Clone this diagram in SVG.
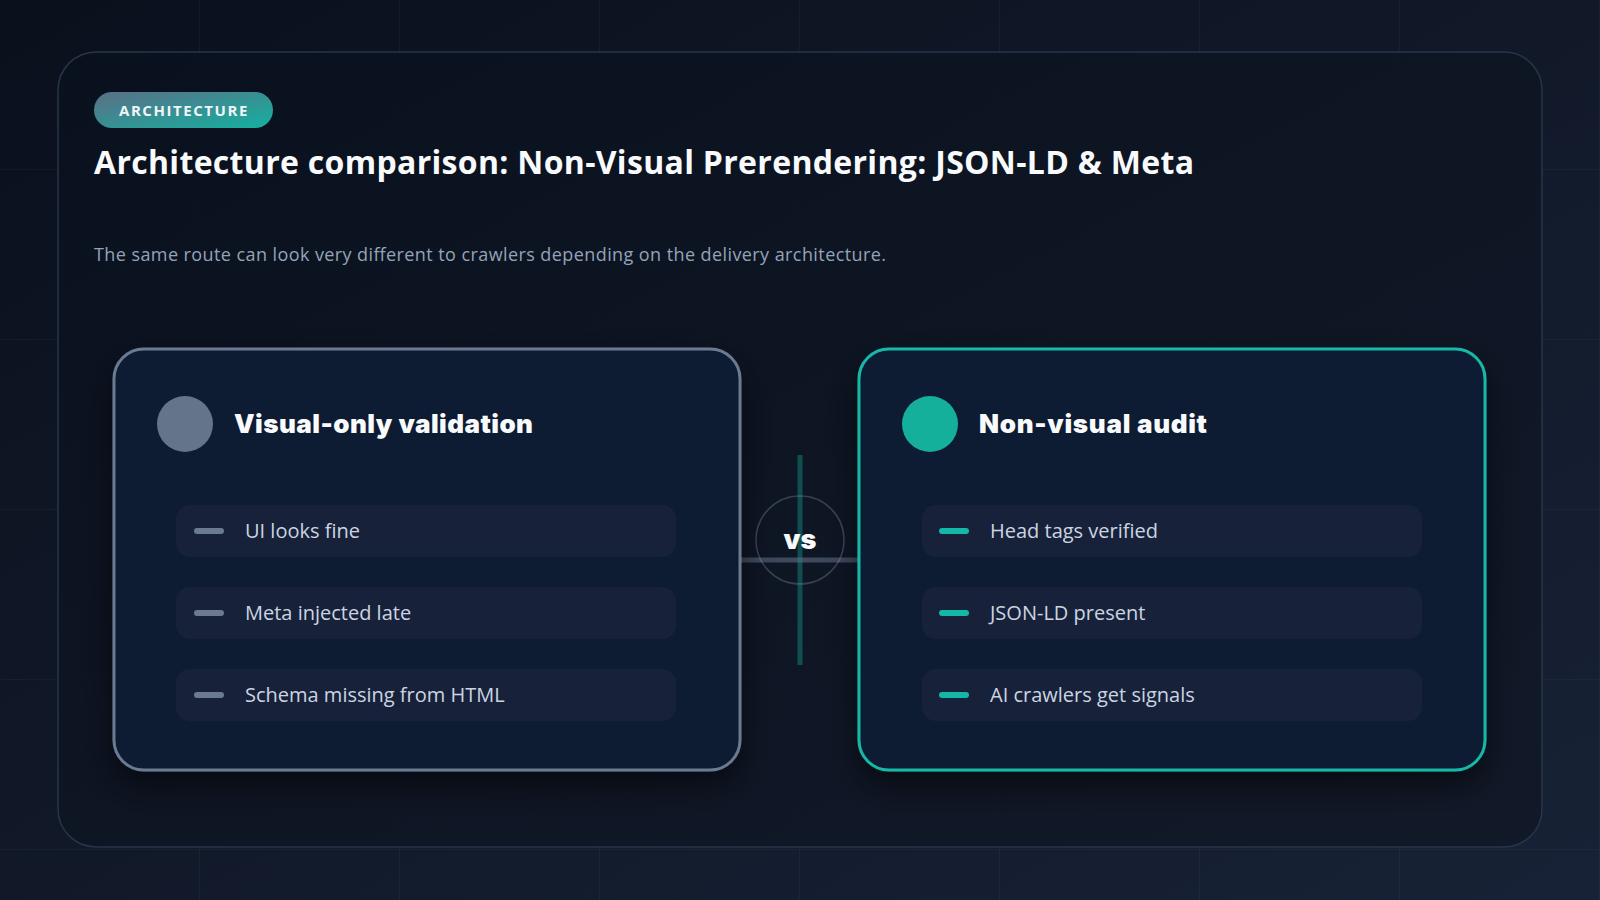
<svg xmlns="http://www.w3.org/2000/svg" width="1600" height="900" viewBox="0 0 1600 900">
  <defs>
    <linearGradient id="bg" x1="0" y1="0" x2="1" y2="1">
      <stop offset="0" stop-color="#0a101c"/>
      <stop offset="1" stop-color="#182236"/>
    </linearGradient>
    <linearGradient id="panel" x1="0" y1="0" x2="1" y2="1">
      <stop offset="0" stop-color="#0a111e"/>
      <stop offset="1" stop-color="#111827"/>
    </linearGradient>
    <linearGradient id="badge" x1="0" y1="0" x2="1" y2="1">
      <stop offset="0" stop-color="#5b6f86"/>
      <stop offset="1" stop-color="#14b1a0"/>
    </linearGradient>
    <pattern id="grid" x="0" y="0" width="200" height="170" patternUnits="userSpaceOnUse">
      <path d="M200 0 V170 M0 170 H200" fill="none" stroke="#94a3b8" stroke-opacity="0.07" stroke-width="1.5"/>
    </pattern>
    <filter id="shadow" x="-20%" y="-20%" width="140%" height="150%">
      <feDropShadow dx="0" dy="14" stdDeviation="16" flood-color="#000000" flood-opacity="0.55"/>
    </filter>
    <style>
      .title{font-family:"Open Sans","Noto Sans","Liberation Sans",sans-serif;font-weight:700;fill:#f8fafc;}
      .sub{font-family:"Open Sans","Noto Sans","Liberation Sans",sans-serif;font-size:18px;fill:#94a3b8;}
      .badge{font-family:"Open Sans","Noto Sans","Liberation Sans",sans-serif;font-weight:700;font-size:15px;fill:#f1f5f9;letter-spacing:1.6px;}
      .card{fill:#0e1b33;stroke-width:3;}
      .head{font-family:"Inter","Noto Sans",sans-serif;font-weight:900;font-size:26px;fill:#f8fafc;}
      .item{fill:#17223a;}
      .itext{font-family:"Open Sans","Noto Sans","Liberation Sans",sans-serif;font-size:20px;fill:#cbd5e1;}
      .dash{stroke-width:6;stroke-linecap:round;}
    </style>
  </defs>

  <rect x="0" y="0" width="1600" height="900" fill="url(#bg)"/>
  <rect x="0" y="0" width="1600" height="900" fill="url(#grid)"/>

  <g id="panel-frame">
    <rect x="58" y="52" width="1484" height="795" rx="38" fill="url(#panel)" fill-opacity="0.92" stroke="#27344a" stroke-width="1.5"/>
  </g>

  <g id="header">
    <rect x="94" y="92" width="179" height="36" rx="18" fill="url(#badge)"/>
    <text class="badge" x="119" y="116" textLength="130">ARCHITECTURE</text>
    <text class="title" x="94" y="174" font-size="32" textLength="1100">Architecture comparison: Non-Visual Prerendering: JSON-LD &amp; Meta</text>
    <text class="sub" x="94" y="261" textLength="792">The same route can look very different to crawlers depending on the delivery architecture.</text>
  </g>

  <g id="connectors">
    <line x1="800" y1="455" x2="800" y2="665" stroke="#14b8a6" stroke-opacity="0.35" stroke-width="5"/>
    <line x1="735" y1="560" x2="858" y2="560" stroke="#64748b" stroke-opacity="0.55" stroke-width="5"/>
  </g>

  <g id="left-card">
    <rect class="card" x="114" y="349" width="626" height="421" rx="30" stroke="#6b7a90" filter="url(#shadow)"/>
    <circle cx="185" cy="424" r="28" fill="#64748b"/>
    <text class="head" x="234" y="433" textLength="299">Visual-only validation</text>
    <g id="left-item-1">
      <rect class="item" x="176" y="505" width="500" height="52" rx="14"/>
      <line class="dash" x1="197" y1="531" x2="221" y2="531" stroke="#6b7a90"/>
      <text class="itext" x="245" y="538">UI looks fine</text>
    </g>
    <g id="left-item-2">
      <rect class="item" x="176" y="587" width="500" height="52" rx="14"/>
      <line class="dash" x1="197" y1="613" x2="221" y2="613" stroke="#6b7a90"/>
      <text class="itext" x="245" y="620">Meta injected late</text>
    </g>
    <g id="left-item-3">
      <rect class="item" x="176" y="669" width="500" height="52" rx="14"/>
      <line class="dash" x1="197" y1="695" x2="221" y2="695" stroke="#6b7a90"/>
      <text class="itext" x="245" y="702">Schema missing from HTML</text>
    </g>
  </g>

  <g id="right-card">
    <rect class="card" x="859" y="349" width="626" height="421" rx="30" stroke="#14b8a6" filter="url(#shadow)"/>
    <circle cx="930" cy="424" r="28" fill="#14b09c"/>
    <text class="head" x="979" y="433" textLength="228">Non-visual audit</text>
    <g id="right-item-1">
      <rect class="item" x="922" y="505" width="500" height="52" rx="14"/>
      <line class="dash" x1="942" y1="531" x2="966" y2="531" stroke="#14b8a6"/>
      <text class="itext" x="990" y="538">Head tags verified</text>
    </g>
    <g id="right-item-2">
      <rect class="item" x="922" y="587" width="500" height="52" rx="14"/>
      <line class="dash" x1="942" y1="613" x2="966" y2="613" stroke="#14b8a6"/>
      <text class="itext" x="990" y="620">JSON-LD present</text>
    </g>
    <g id="right-item-3">
      <rect class="item" x="922" y="669" width="500" height="52" rx="14"/>
      <line class="dash" x1="942" y1="695" x2="966" y2="695" stroke="#14b8a6"/>
      <text class="itext" x="990" y="702">AI crawlers get signals</text>
    </g>
  </g>

  <g id="vs-node">
    <circle cx="800" cy="540" r="44" fill="none" stroke="#94a3b8" stroke-opacity="0.3" stroke-width="1.5"/>
    <text x="800" y="549" text-anchor="middle" font-family="Inter, 'Noto Sans', sans-serif" font-weight="900" font-size="27" fill="#f8fafc">vs</text>
  </g>
</svg>
